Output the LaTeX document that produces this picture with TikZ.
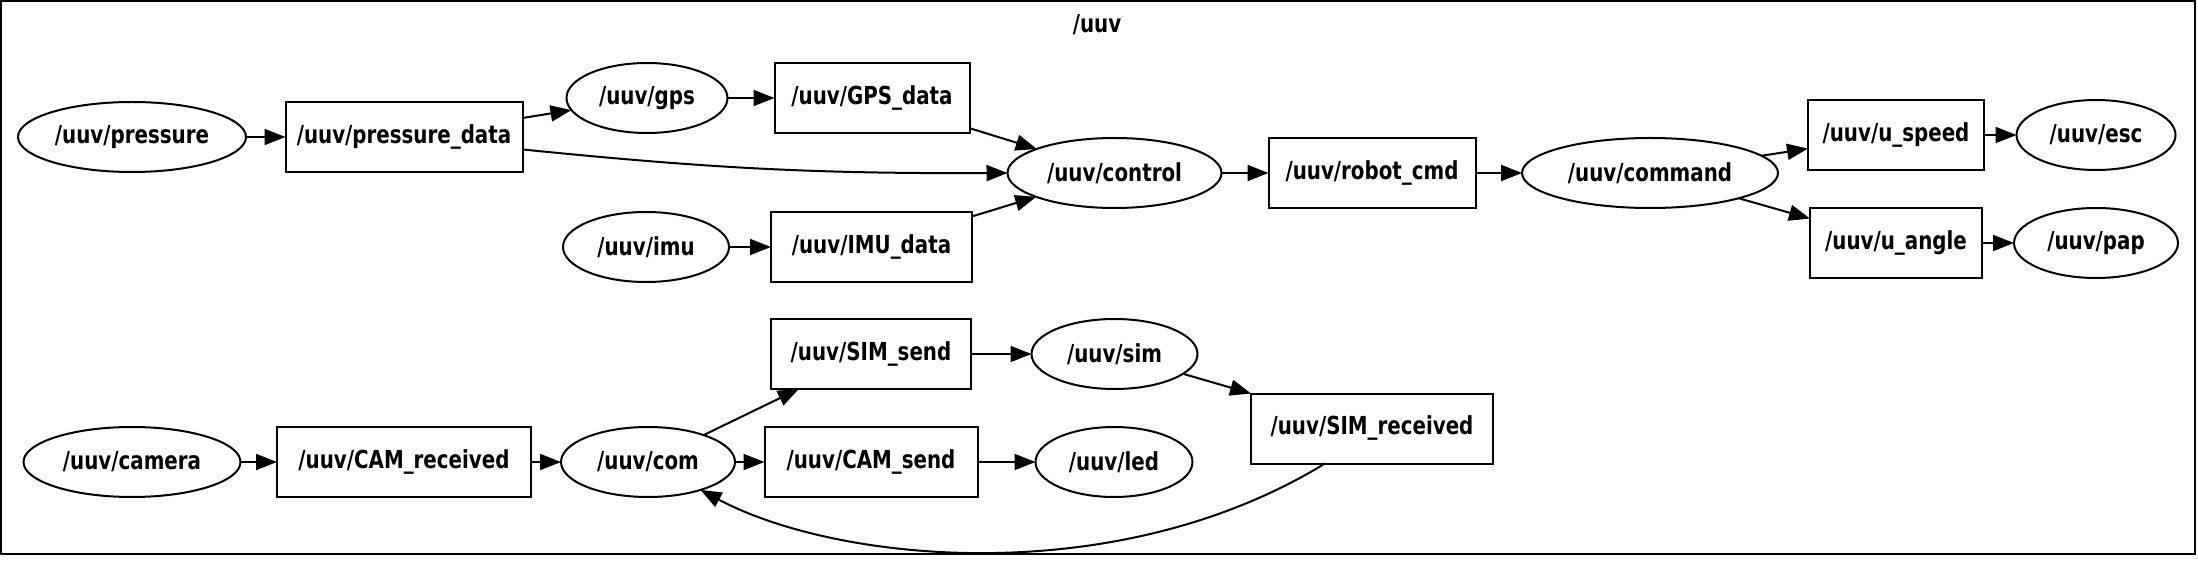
\documentclass[tikz,border=0pt]{standalone}
\usepackage{fontspec}
\newfontfamily\nodefont{DejaVu Sans}[FakeStretch=0.8]
\usetikzlibrary{arrows.meta,shapes.geometric,calc}
\begin{document}
\begin{tikzpicture}[x=0.5pt,y=-0.5pt,
  every node/.style={font=\nodefont\bfseries\fontsize{12.4}{15}\selectfont, inner sep=0pt, outer sep=0pt, line width=1pt},
  topic/.style={draw, rectangle, minimum height=35pt},
  proc/.style={draw, ellipse, minimum height=35pt},
  conn/.style={-{Triangle[length=10.5pt,width=8pt]}, line width=1pt}]
\useasboundingbox (0,0) rectangle (2198,571);
\draw[line width=1pt] (1,1) rectangle (2195,554);
\node (title) at (1097,25) {/uuv};
% top cluster
\node[proc, minimum width=114pt] (pressure) at (132,137) {/uuv/pressure};
\node[topic, minimum width=118.5pt] (pdata) at (404,137) {/uuv/pressure\_data};
\node[proc, minimum width=80.5pt] (gps) at (647,98) {/uuv/gps};
\node[topic, minimum width=97.5pt] (gpsdata) at (872,98) {/uuv/GPS\_data};
\node[proc, minimum width=83pt] (imu) at (646,247) {/uuv/imu};
\node[topic, minimum width=100.5pt] (imudata) at (871.5,247) {/uuv/IMU\_data};
\node[proc, minimum width=107pt] (control) at (1114.5,173) {/uuv/control};
\node[topic, minimum width=103.5pt] (robotcmd) at (1372,173) {/uuv/robot\_cmd};
\node[proc, minimum width=128pt] (command) at (1650,173) {/uuv/command};
\node[topic, minimum width=88pt] (uspeed) at (1896,135) {/uuv/u\_speed};
\node[proc, minimum width=79.5pt] (esc) at (2096,135) {/uuv/esc};
\node[topic, minimum width=86pt] (uangle) at (1896,243) {/uuv/u\_angle};
\node[proc, minimum width=82pt] (pap) at (2096,243) {/uuv/pap};
% bottom cluster
\node[proc, minimum width=108.5pt] (camera) at (132,462) {/uuv/camera};
\node[topic, minimum width=127pt] (camrecv) at (404,462) {/uuv/CAM\_received};
\node[proc, minimum width=87pt] (com) at (648,462) {/uuv/com};
\node[topic, minimum width=100pt] (simsend) at (871,354) {/uuv/SIM\_send};
\node[proc, minimum width=83pt] (sim) at (1114.5,354) {/uuv/sim};
\node[topic, minimum width=106.5pt] (camsend) at (871,462) {/uuv/CAM\_send};
\node[proc, minimum width=78.5pt] (led) at (1114,462) {/uuv/led};
\node[topic, minimum width=121pt] (simrecv) at (1372,428.5) {/uuv/SIM\_received};
% edges
\draw[conn] (pressure) -- (pdata);
\draw[conn] (pdata) -- (gps);
\draw[conn] (pdata.-6) to[bend right=3] (control.west);
\draw[conn] (gps) -- (gpsdata);
\draw[conn] (gpsdata) -- (control);
\draw[conn] (imu) -- (imudata);
\draw[conn] (imudata) -- (control);
\draw[conn] (control) -- (robotcmd);
\draw[conn] (robotcmd) -- (command);
\draw[conn] (command) -- (uspeed);
\draw[conn] (command) -- (uangle);
\draw[conn] (uspeed) -- (esc);
\draw[conn] (uangle) -- (pap);
\draw[conn] (camera) -- (camrecv);
\draw[conn] (camrecv) -- (com);
\draw[conn] (com) -- (simsend);
\draw[conn] (com) -- (camsend);
\draw[conn] (simsend) -- (sim);
\draw[conn] (camsend) -- (led);
\draw[conn] (sim) -- (simrecv);
\draw[conn] ($(simrecv.south)+(-47,0)$) .. controls (1116.6,591) and (837.7,562.9) .. (com.-28);
\end{tikzpicture}
\end{document}
